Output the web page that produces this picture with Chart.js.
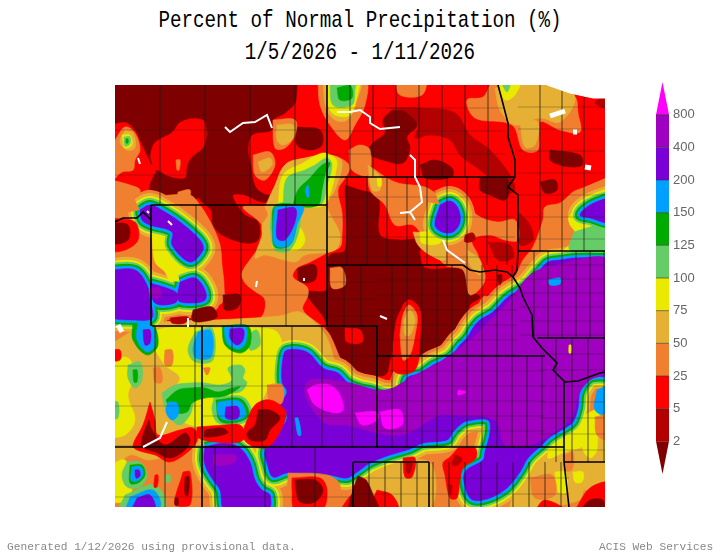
<!DOCTYPE html>
<html>
<head>
<meta charset="utf-8">
<title>Percent of Normal Precipitation</title>
<script src="https://cdn.jsdelivr.net/npm/chart.js@4"></script>
<style>
  html, body { margin: 0; padding: 0; background: #fff; }
  #page { position: relative; width: 720px; height: 556px; overflow: hidden; }
  canvas { position: absolute; }
  .txt { position: absolute; white-space: pre; font-family: "Liberation Mono", monospace; }
  .title { left: 0; width: 720px; text-align: center; font-size: 19.2px; color: #000; transform: scaleY(1.25); }
  .foot { font-size: 11.2px; color: #888; top: 541px; }
</style>
</head>
<body>
<div id="page">
  <div class="txt title" style="top:10px">Percent of Normal Precipitation (%)</div>
  <div class="txt title" style="top:42px">1/5/2026 - 1/11/2026</div>
  <canvas id="map" width="720" height="556" style="left:0;top:0"></canvas>
  <canvas id="bar" width="80" height="420" style="left:640px;top:70px"></canvas>
  <div class="txt foot" style="left:7px">Generated 1/12/2026 using provisional data.</div>
  <div class="txt foot" style="left:599px">ACIS Web Services</div>
</div>
<script>
// legend classes, driest to wettest
const classColors = {a:'#7f0000', b:'#b30000', c:'#ff0000', d:'#f08030', e:'#e5b033', f:'#eaea00', g:'#66cc66', h:'#00aa00', i:'#00a0ff', j:'#7a00d8', k:'#a000c0', l:'#ff00ff'};
const barClasses = ['b','c','d','e','f','g','h','i','j','k'];
const tickLabels = ['2','5','25','50','75','100','125','150','200','400','800'];

// contours, as closed outlines in map units (x 115-605, y 85-507)
const baseArea = [[[90,60],[640,60],[640,540],[90,540]]];

const dryB = [
  [[385,108],[420,108],[455,113],[470,135],[490,150],[510,175],[515,190],[507,193],[480,170],[460,155],[450,140],[430,135],[415,138],[418,125],[400,110]],
  [[520,213],[530,225],[533,240],[520,245],[518,215]],
  [[600,98],[606,98],[606,108],[595,103]]
];
const dryA = [
  [[100,70],[290,70],[296,100],[285,113],[273,120],[272,130],[252,135],[248,150],[251,165],[253,180],[258,190],[270,195],[275,185],[276,198],[262,202],[245,195],[233,195],[237,205],[245,215],[258,222],[258,240],[245,243],[222,235],[213,225],[211,210],[200,200],[195,190],[187,175],[190,160],[205,145],[205,122],[195,118],[180,122],[172,132],[155,142],[150,155],[152,165],[147,155],[140,140],[135,130],[125,122],[100,125]],
  [[157,170],[170,177],[185,178],[190,165],[200,190],[195,200],[180,196],[165,200],[152,198],[150,185]],
  [[297,127],[320,130],[322,145],[310,150],[297,145]],
  [[392,110],[405,112],[417,125],[407,137],[410,148],[403,163],[383,160],[368,153],[373,143],[385,133],[383,120]],
  [[420,165],[435,160],[452,168],[452,177],[425,178]],
  [[480,178],[505,178],[510,187],[505,200],[490,195],[480,190]],
  [[550,150],[580,155],[582,165],[572,167],[560,165],[550,160]],
  [[540,182],[555,180],[557,190],[545,193]],
  [[345,185],[360,190],[378,197],[380,235],[400,240],[420,240],[420,255],[425,268],[463,270],[468,290],[480,297],[470,305],[465,320],[457,340],[445,352],[430,360],[423,368],[417,355],[417,335],[420,310],[408,303],[396,320],[395,340],[390,360],[385,375],[365,375],[348,380],[340,358],[328,338],[325,320],[310,300],[305,292],[327,290],[327,270],[330,255],[345,250]],
  [[297,268],[315,265],[315,280],[300,282]]
];

const wetD = [
  // everything south of the dry belt
  [[90,193],[115,193],[135,197],[150,197],[170,195],[190,195],[200,205],[212,225],[220,245],[222,265],[224,285],[222,303],[200,307],[165,310],[155,318],[170,322],[190,326],[225,322],[260,318],[265,300],[253,290],[245,283],[242,273],[252,257],[262,243],[262,225],[243,207],[270,205],[275,198],[280,177],[287,163],[307,158],[323,155],[340,158],[350,167],[345,178],[338,190],[342,213],[342,235],[340,247],[327,253],[310,262],[297,268],[293,277],[307,287],[308,295],[303,310],[323,327],[330,335],[340,358],[350,378],[360,384],[380,392],[398,388],[405,378],[420,372],[430,372],[455,356],[463,340],[473,320],[483,297],[495,298],[507,293],[517,273],[523,260],[533,247],[543,220],[545,207],[560,203],[577,190],[640,178],[640,540],[90,540]],
  [[490,85],[550,80],[575,97],[578,113],[580,132],[560,130],[540,122],[538,150],[523,150],[512,125],[475,118],[467,100],[483,97]],
  [[395,80],[425,80],[422,95],[400,95]],
  [[273,120],[295,120],[295,135],[285,148],[275,148]],
  [[253,155],[270,152],[275,165],[265,180],[255,175]],
  [[178,192],[190,190],[188,200],[178,200]],
  [[176,160],[180,160],[179,170],[177,170]],
  [[115,140],[125,127],[135,133],[140,150],[135,160],[133,170],[122,172],[112,180]],
  [[112,180],[130,185],[140,190],[135,200],[112,200]],
  [[318,80],[320,105],[330,125],[345,140],[355,125],[365,105],[365,80]],
  [[349,150],[360,145],[370,150],[368,175],[352,170]],
  [[368,165],[395,182],[425,187],[440,195],[460,195],[477,215],[497,222],[515,220],[518,240],[505,240],[490,235],[472,240],[478,255],[485,280],[470,295],[463,270],[445,265],[425,240],[413,225],[395,225],[385,205],[370,190]]
];
const wetE = [
  [[495,88],[550,80],[575,97],[560,122],[540,118],[515,125],[500,110]],
  [[520,122],[538,122],[535,145],[525,147]],
  [[323,80],[326,108],[335,120],[347,120],[355,105],[360,80]],
  [[258,162],[270,158],[272,165],[262,172]],
  [[277,125],[293,125],[293,138],[283,145],[277,140]],
  [[125,130],[133,133],[135,148],[127,150],[120,142]],
  [[265,207],[275,185],[285,165],[305,158],[330,155],[342,162],[335,190],[327,205],[340,235],[335,250],[305,255],[295,262],[265,255],[255,258],[262,235],[262,225],[268,215]],
  [[413,232],[440,235],[445,260],[430,255],[418,245]],
  [[467,250],[480,260],[480,275],[470,265]],
  [[368,165],[380,177],[380,190],[372,190]],
  [[110,345],[135,330],[165,322],[215,320],[280,316],[300,312],[322,330],[330,345],[335,362],[345,378],[345,395],[290,420],[265,447],[250,460],[205,447],[150,460],[130,455],[110,470]],
  [[540,460],[570,430],[640,400],[640,485],[585,490],[580,500],[545,507],[510,507]],
  [[370,470],[429,462],[429,510],[365,510]]
];
const wetF = [
  [[498,80],[520,80],[515,95],[505,100]],
  [[327,80],[328,105],[335,115],[350,115],[357,97],[358,80]],
  [[122,135],[130,135],[132,145],[125,148]],
  [[272,247],[297,250],[305,240],[297,225],[275,225]],
  [[278,205],[283,175],[303,163],[323,153],[335,158],[337,165],[328,200],[320,207]],
  [[420,232],[440,232],[440,243],[422,243]],
  [[377,177],[381,178],[381,186],[378,186]],
  [[568,218],[580,205],[610,192],[610,252],[563,252],[575,240],[575,232],[570,225]],
  [[145,335],[165,328],[200,328],[260,328],[277,332],[283,350],[283,375],[270,385],[262,400],[252,410],[245,425],[205,428],[178,418],[170,395],[180,378],[165,365],[155,350]],
  [[110,360],[128,358],[135,375],[128,395],[135,420],[125,435],[110,435]],
  [[110,465],[125,460],[132,480],[128,500],[110,500]],
  [[152,235],[170,240],[175,262],[185,270],[200,285],[175,290],[165,272],[155,262]],
  [[553,440],[570,425],[590,412],[610,405],[610,420],[595,430],[585,445],[565,452],[548,458]],
  [[583,430],[595,425],[597,450],[590,458],[583,450]],
  [[555,472],[565,472],[567,492],[558,492]],
  [[573,472],[583,472],[582,482],[575,482]]
];
const wetG = [
  [[500,80],[510,80],[507,92]],
  [[330,80],[333,105],[352,105],[355,90],[355,80]],
  [[124,137],[130,137],[130,144],[125,146]],
  [[283,205],[287,178],[305,170],[315,165],[327,158],[332,165],[327,185],[320,205]],
  [[270,225],[275,205],[297,205],[300,225],[290,250],[275,250]],
  [[574,232],[590,227],[610,222],[610,250],[570,250]],
  [[162,393],[175,385],[190,383],[205,383],[220,385],[232,380],[228,368],[240,365],[245,370],[243,378],[247,383],[240,392],[225,393],[205,395],[195,400],[190,415],[180,425],[172,420],[165,408]],
  [[214,398],[243,397],[252,415],[240,424],[218,423],[212,410]],
  [[195,332],[212,328],[213,360],[195,362],[188,350]],
  [[248,335],[257,330],[260,345],[250,350]],
  [[128,365],[140,362],[142,380],[135,388],[128,378]],
  [[112,402],[118,402],[118,418],[112,418]],
  [[127,462],[140,462],[147,475],[140,487],[127,487],[122,475]],
  [[125,495],[155,485],[165,507],[120,510]],
  [[166,475],[170,475],[170,482],[166,482]]
];
const wetH = [
  [[337,88],[350,85],[352,98],[340,100]],
  [[126,139],[128,139],[128,143],[126,143]],
  [[293,205],[298,190],[310,178],[322,165],[330,163],[325,175],[322,190],[318,205],[300,207]],
  [[272,228],[275,206],[297,206],[297,222],[290,245],[275,247]],
  [[166,400],[178,390],[190,388],[205,388],[218,392],[232,388],[240,387],[225,396],[205,398],[192,403],[187,412],[172,412]],
  [[216,400],[241,399],[249,415],[238,422],[220,421]],
  [[222,326],[248,326],[250,345],[240,353],[225,345]],
  [[133,370],[137,370],[137,382],[134,382]],
  [[130,465],[142,465],[145,475],[138,483],[130,483]],
  [[133,322],[152,323],[158,345],[147,355],[133,340]]
];
const wetI = [
  [[305,190],[308,185],[309,197],[307,197]],
  [[275,207],[303,207],[297,225],[290,245],[275,245],[273,225]],
  [[168,402],[177,403],[178,415],[172,420],[166,412]],
  [[218,402],[239,401],[246,415],[237,420],[222,419],[217,410]],
  [[198,332],[211,331],[211,357],[196,358],[193,348]],
  [[224,327],[245,326],[246,342],[239,349],[227,343]],
  [[132,467],[141,467],[143,475],[137,481],[131,480]],
  [[130,497],[153,490],[160,507],[127,510]],
  [[138,322],[152,325],[155,345],[147,352],[137,340]],
  [[566,342],[572,340],[573,357],[568,357]],
  [[597,390],[610,386],[610,416],[595,410]]
];
const wetJ = [
  [[278,210],[295,208],[295,222],[285,240],[277,238]],
  [[226,407],[238,407],[238,418],[226,418]],
  [[230,329],[243,329],[243,340],[237,345],[230,338]],
  [[135,470],[139,470],[140,476],[136,478]],
  [[137,498],[150,495],[155,510],[133,510]],
  [[143,330],[150,330],[150,343],[145,345]]
];
// large wet areas: the colder classes wrap around these outlines as bands
const bandedJ = [
  [[140,210],[150,205],[165,212],[180,222],[200,240],[203,250],[190,262],[172,245],[172,232],[150,225],[142,220]],
  [[110,270],[135,270],[147,285],[150,300],[152,318],[135,320],[110,315]],
  [[150,283],[172,290],[178,295],[175,303],[155,303]],
  [[180,282],[195,278],[205,290],[205,300],[190,303],[178,300]],
  [[440,205],[450,201],[458,208],[460,222],[453,232],[442,232],[435,225]],
  [[610,197],[610,222],[590,218],[580,215],[590,205]],
  [[610,258],[575,258],[560,260],[548,262],[540,270],[527,285],[508,297],[493,312],[480,320],[473,328],[467,338],[460,345],[450,357],[433,365],[422,373],[407,378],[402,392],[385,395],[370,390],[360,388],[348,383],[338,373],[323,368],[307,352],[287,350],[283,358],[282,382],[287,392],[280,405],[287,415],[285,423],[273,435],[265,452],[267,463],[273,477],[287,473],[330,475],[347,478],[360,470],[370,463],[390,455],[410,449],[423,443],[447,440],[453,432],[460,425],[467,421],[488,420],[490,432],[485,452],[483,460],[465,472],[466,490],[473,500],[490,498],[507,488],[520,472],[528,458],[542,445],[550,437],[565,428],[573,422],[578,408],[580,392],[590,378],[610,373]],
  [[205,447],[225,443],[240,448],[250,462],[255,480],[262,490],[270,495],[268,510],[225,510],[220,490],[213,480],[207,470],[204,460]]
];
const wetK = [
  [[440,362],[470,340],[490,320],[510,300],[530,275],[555,265],[610,262],[610,370],[590,380],[578,395],[573,415],[555,432],[530,445],[505,445],[495,420],[450,415],[440,415],[400,435],[345,425],[325,423],[305,395],[310,380],[345,382],[385,390],[415,375]],
  [[213,455],[235,455],[235,462],[215,465]],
  [[150,288],[160,288],[160,297],[152,297]]
];
const wetL = [
  [[307,390],[315,385],[330,385],[340,395],[343,410],[335,413],[315,405]],
  [[355,413],[377,412],[377,420],[362,425]],
  [[380,412],[400,410],[402,425],[385,428]],
  [[458,390],[466,392],[458,395]]
];

// small pockets painted over the wet classes
const pocketF = [ [[569,345],[571,345],[571,353],[569,353]] ];
const pocketBlue = [ [[548,280],[560,278],[560,284],[550,285]], [[295,418],[298,418],[301,435],[298,435]] ];
const pocketD = [
  [[330,268],[342,268],[345,285],[332,288]],
  [[565,455],[573,452],[572,470],[565,470]],
  [[530,478],[552,475],[555,495],[535,498]],
  [[595,417],[610,415],[610,440],[597,435]],
  [[153,368],[160,368],[162,382],[155,382]],
  [[165,350],[172,350],[172,365],[165,365]],
  [[203,368],[210,368],[207,375]],
  [[267,385],[282,385],[282,403],[270,403]],
  [[288,473],[327,475],[340,485],[335,510],[290,510]]
];
const pocketC = [
  [[393,345],[397,320],[408,300],[420,310],[420,340],[415,370],[395,372]],
  [[345,328],[360,330],[362,342],[347,342]],
  [[458,448],[475,448],[476,458],[463,468],[460,480],[457,498],[450,498],[445,475],[443,463],[450,457]],
  [[377,490],[392,495],[398,510],[370,510]],
  [[403,458],[415,458],[412,477],[405,477]],
  [[292,478],[320,478],[327,490],[322,510],[295,510],[292,490]],
  [[340,510],[352,495],[353,510]],
  [[535,510],[545,500],[565,510]],
  [[575,510],[590,488],[610,483],[610,510]],
  [[150,402],[155,420],[158,435],[180,430],[193,428],[198,438],[190,450],[170,462],[155,455],[137,450],[133,445],[143,425]],
  [[197,427],[225,425],[240,425],[245,435],[240,442],[215,442],[197,437]],
  [[245,425],[255,405],[270,400],[285,410],[285,420],[275,440],[265,448],[250,445],[243,437]],
  [[155,475],[158,475],[157,487],[154,487]],
  [[183,472],[190,472],[190,505],[175,505]],
  [[112,218],[135,222],[138,240],[125,250],[112,250]],
  [[112,350],[120,350],[120,360],[112,360]]
];
const tongueD = [
  [[400,335],[403,315],[409,305],[417,315],[415,335],[410,355],[403,360]],
  [[268,392],[272,392],[272,400]]
];
const tongueE = [ [[404,320],[410,310],[415,320],[410,335],[405,335]] ];
const pocketB = [
  [[455,455],[462,458],[458,465],[452,465]],
  [[449,485],[452,485],[451,495]],
  [[405,462],[412,462],[410,473],[407,473]],
  [[170,318],[188,317],[185,323],[172,323]],
  [[465,235],[473,233],[475,240],[465,242]],
  [[488,242],[510,245],[513,258],[498,260]]
];
const pocketA = [
  [[112,223],[128,225],[128,240],[112,243]],
  [[358,476],[366,480],[372,492],[378,510],[350,510],[353,490]],
  [[295,480],[315,480],[323,490],[315,502],[300,502],[296,490]],
  [[580,510],[590,500],[603,500],[603,510]],
  [[149,420],[152,430],[165,445],[185,433],[190,440],[185,450],[170,458],[155,452],[142,447],[142,438]],
  [[205,430],[222,428],[228,433],[205,437]],
  [[258,410],[270,410],[280,418],[270,430],[265,440],[250,440],[247,433],[255,425]],
  [[185,477],[189,477],[188,495],[185,495]],
  [[175,498],[178,498],[178,505],[175,505]],
  [[223,295],[240,295],[238,307],[225,310]],
  [[193,310],[212,307],[217,317],[200,322],[192,320]],
  [[497,275],[502,275],[500,285]]
];

// paint order, bottom to top
const paintLayers = [
  ['c', baseArea], ['b', dryB], ['a', dryA],
  ['d', wetD], ['e', wetE], ['f', wetF], ['g', wetG], ['h', wetH], ['i', wetI],
  ['j', wetJ], ['j', bandedJ], ['k', wetK], ['l', wetL],
  ['d', pocketD], ['c', pocketC], ['d', tongueD], ['e', tongueE], ['b', pocketB], ['a', pocketA],
  ['i', pocketBlue], ['f', pocketF]
];
// half-width of each band around bandedJ
const bandLayers = [wetD, wetE, wetF, wetG, wetH, wetI];
const bandWidths = {d: 15, e: 12, f: 9, g: 7, h: 5, i: 3};

const stateLines = [
  [[327,85],[327,326]], [[151,205],[327,205]], [[151,205],[151,326]], [[152,326],[377,326]],
  [[377,326],[377,447]], [[377,356],[545,356]], [[327,177],[515,177]], [[327,265],[463,265]],
  [[115,447],[564,447]], [[202,326],[202,507]], [[353,462],[429,462]], [[353,462],[353,507]],
  [[429,462],[429,507]], [[564,382],[564,462],[569,507]], [[564,462],[605,462]],
  [[537,338],[605,338]], [[517,251],[605,251]],
  [[498,85],[502,100],[508,123],[508,137],[515,160],[515,177],[508,187],[518,195],[518,251],[517,270],[513,277],[507,272],[495,270],[480,272],[470,270],[463,265]],
  [[513,277],[520,288],[523,297],[532,315],[533,337],[542,348],[557,363],[553,370],[565,382],[578,381],[600,373],[605,372]],
  [[115,222],[123,218],[137,218],[143,212],[151,220]]
];

// no-data rivers and lakes
const riverLines = [
  [[225,127],[230,132],[243,123],[255,122],[267,115],[272,128]],
  [[337,112],[350,112],[360,110],[370,117],[370,123],[380,129],[400,127]],
  [[410,155],[415,160],[415,177],[420,187],[422,202],[410,212],[400,213]], [[410,212],[415,220]],
  [[443,240],[447,250],[465,263]], [[167,422],[160,438],[143,447]],
  [[138,158],[140,164]], [[147,211],[149,213]], [[168,221],[172,225]], [[257,281],[256,287]],
  [[304,278],[304,281]], [[188,318],[188,327]], [[380,316],[387,319]]
];
const lakeLines = [ [[550,116],[565,111]], [[585,167],[591,168]], [[118,325],[122,332]], [[573,132],[577,132]] ];
const noDataEdge = [[547,85],[570,93],[593,98],[605,98]];

// rough county grids: west, east, north, south, spacing
const countyGrids = [
  [377,545,356,447,15], [377,517,265,356,15], [327,377,265,326,17], [327,515,177,265,20],
  [327,505,85,177,23], [518,605,85,251,22], [520,605,251,338,14], [540,605,338,462,16],
  [353,569,462,507,16], [202,377,326,447,30], [151,327,205,326,45], [115,327,85,205,45],
  [115,353,447,507,50], [115,202,326,447,40]
];

function toPoints(line) {
  return line.map(function(p) { return {x: p[0], y: p[1]}; });
}

function joinLines(lines) {
  const out = [];
  lines.forEach(function(line) {
    toPoints(line).forEach(function(p) { out.push(p); });
    out.push({x: NaN, y: NaN});
  });
  return out;
}

function countyLines() {
  const lines = [];
  countyGrids.forEach(function(g) {
    for (let x = g[0] + g[4]; x < g[1]; x += g[4]) lines.push([[x, g[2]], [x, g[3]]]);
    for (let y = g[2] + g[4]; y < g[3]; y += g[4]) lines.push([[g[0], y], [g[1], y]]);
  });
  return lines;
}

function closed(poly) {
  return toPoints(poly.concat([poly[0]]));
}

function area(poly, code) {
  return { data: closed(poly), fill: 'shape', backgroundColor: classColors[code], borderColor: classColors[code], borderWidth: 0.6, pointRadius: 0, tension: 0.35, borderJoinStyle: 'round' };
}

function band(poly, code) {
  return { data: closed(poly), fill: false, borderColor: classColors[code], borderWidth: bandWidths[code] * 2, pointRadius: 0, tension: 0.35, borderJoinStyle: 'round' };
}

function pathSet(data, color, width) {
  return { data: data, fill: false, borderColor: color, borderWidth: width, pointRadius: 0, tension: 0, spanGaps: false };
}

// Chart.js draws the datasets from the end of the list, so bottom layers go last
const painted = [];
paintLayers.forEach(function(layer) {
  const code = layer[0];
  layer[1].forEach(function(poly) { painted.push(area(poly, code)); });
  if (bandLayers.indexOf(layer[1]) >= 0) {
    bandedJ.forEach(function(poly) { painted.push(band(poly, code)); });
  }
});
const noDataFill = Object.assign(pathSet(toPoints(noDataEdge), '#fff', 1), { fill: {value: 85}, backgroundColor: '#fff' });
const mapDatasets = [
  pathSet(joinLines(lakeLines), '#fff', 5),
  pathSet(joinLines(riverLines), '#fff', 2),
  noDataFill,
  pathSet(joinLines(stateLines), '#000', 1.6),
  pathSet(joinLines(countyLines()), 'rgba(30,30,30,0.42)', 0.7)
].concat(painted.reverse());

new Chart(document.getElementById('map').getContext('2d'), {
  type: 'line',
  data: { datasets: mapDatasets },
  options: {
    responsive: false,
    animation: false,
    events: [],
    layout: { padding: { left: 115, right: 115, top: 85, bottom: 49 } },
    plugins: { legend: { display: false }, tooltip: { enabled: false } },
    scales: {
      x: { type: 'linear', min: 115, max: 605, display: false },
      y: { type: 'linear', min: 85, max: 507, reverse: true, display: false }
    }
  }
});

// colour bar: one filled band per class between two ticks, arrows on both ends
const barDatasets = barClasses.map(function(code, i) {
  return {
    data: [{x: 0, y: i + 1}, {x: 1, y: i + 1}],
    borderColor: '#333', borderWidth: 0.6, pointRadius: 0,
    backgroundColor: classColors[code], fill: {value: i}
  };
});
barDatasets.push({
  data: [{x: 0, y: 10}, {x: 0.5, y: 11}, {x: 1, y: 10}],
  borderWidth: 0, pointRadius: 0, backgroundColor: classColors.l, fill: {value: 10}
});
barDatasets.push({
  data: [{x: 0, y: 0}, {x: 0.5, y: -1}, {x: 1, y: 0}],
  borderWidth: 0, pointRadius: 0, backgroundColor: classColors.a, fill: {value: 0}
});

new Chart(document.getElementById('bar').getContext('2d'), {
  type: 'line',
  data: { datasets: barDatasets },
  options: {
    responsive: false,
    animation: false,
    events: [],
    layout: { padding: { left: 16, right: 0, top: 12, bottom: 16 } },
    plugins: { legend: { display: false }, tooltip: { enabled: false } },
    scales: {
      x: { type: 'linear', min: 0, max: 1, display: false },
      y: {
        type: 'linear', min: -1, max: 11, position: 'right',
        afterFit: function(scale) { scale.width = 51; scale.paddingTop = 0; scale.paddingBottom = 0; },
        grid: { display: false, drawTicks: false },
        border: { display: false },
        ticks: {
          stepSize: 1, padding: 4, color: '#666', autoSkip: false, maxRotation: 0,
          font: { family: 'Liberation Sans', size: 13 },
          callback: function(v) { return tickLabels[v] || ''; }
        }
      }
    }
  }
});
</script>
</body>
</html>
